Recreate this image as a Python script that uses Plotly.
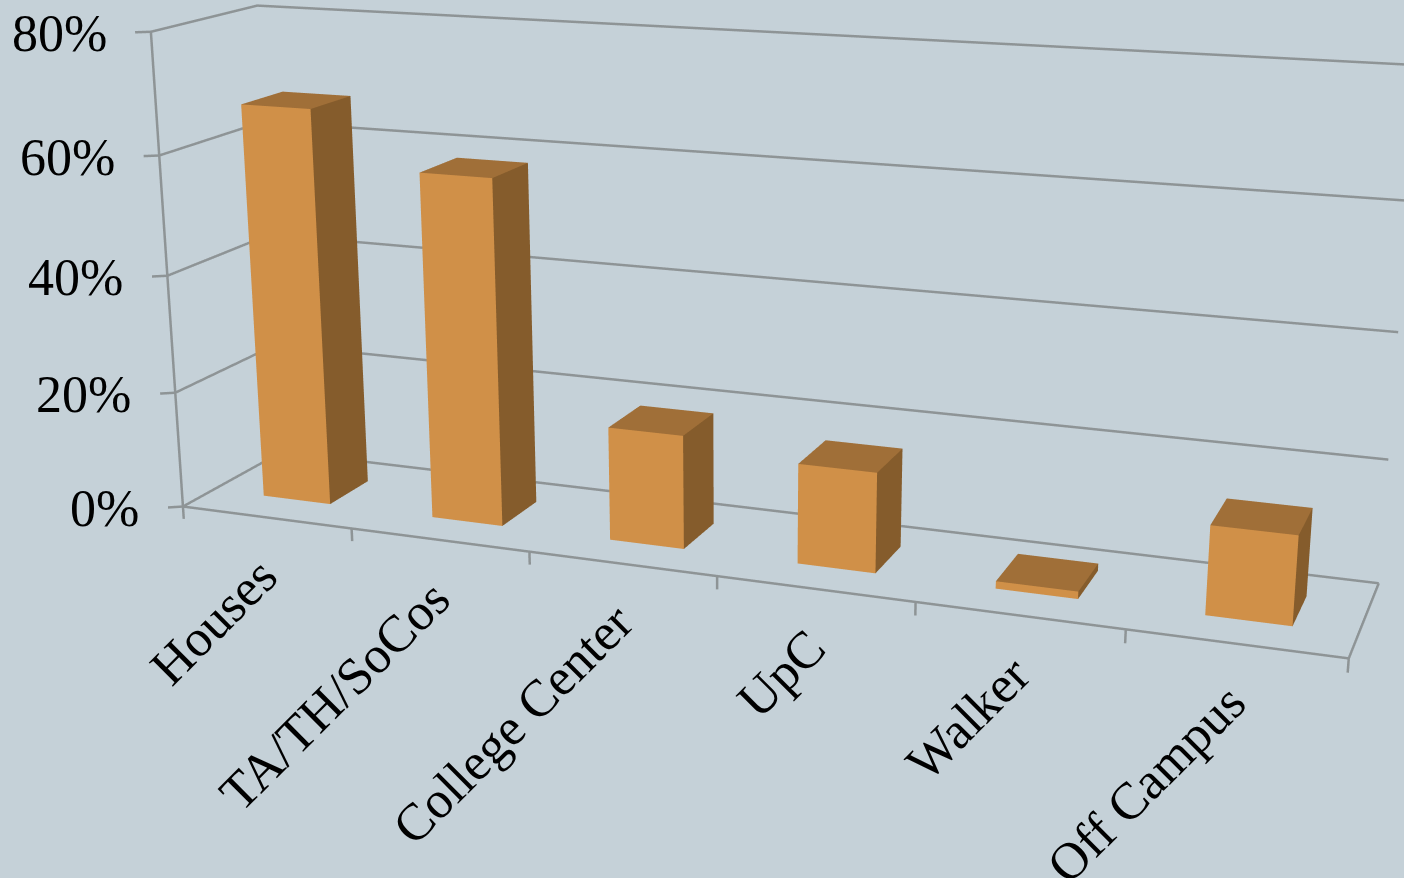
import plotly.graph_objects as go

categories = ["Houses", "TA/TH/SoCos", "College Center", "UpC", "Walker", "Off Campus"]
values = [67.3, 58.2, 19, 16.5, 1.2, 14.2]
tick_values = [0, 20, 40, 60, 80]
tick_labels = ["0%", "20%", "40%", "60%", "80%"]

front_color = "#D09048"
side_color = "#855C2C"
top_color = "#A06F38"
line_color = "#8E9496"
bg_color = "#C5D1D8"
label_font = dict(family="Liberation Serif", size=52, color="black")

W = 3420
H = 2139

fig = go.Figure()

def add_line(xs, ys, zs):
    fig.add_trace(go.Scatter3d(x=xs, y=ys, z=zs, mode="lines",
                               line=dict(color=line_color, width=5), hoverinfo="skip"))

# walls and floor
add_line([0, 6, 6], [0, 0, 1], [0, 0, 0])
add_line([0, 0, 0], [0, 0, 1], [80, 0, 0])
add_line([0, 0, 6.05], [0, 1, 1], [80, 80, 80])
for t in tick_values[:-1]:
    add_line([0, 0, 6], [0, 1, 1], [t, t, t])
for t in tick_values:
    add_line([-0.065, 0], [-0.04, 0], [t, t])
for i in range(7):
    add_line([i, i], [0, 0], [0, -2.2])

# bars
for n, v in enumerate(values):
    x0, x1 = n + 0.305, n + 0.705
    y0, y1 = 0.3, 0.705
    fig.add_trace(go.Mesh3d(
        x=[x0, x1, x1, x0, x0, x1, x1, x0],
        y=[y0, y0, y1, y1, y0, y0, y1, y1],
        z=[0, 0, 0, 0, v, v, v, v],
        i=[0, 0, 1, 1, 4, 4],
        j=[1, 5, 2, 6, 5, 6],
        k=[5, 4, 6, 5, 6, 7],
        facecolor=[front_color, front_color, side_color, side_color, top_color, top_color],
        flatshading=True,
        lighting=dict(ambient=1, diffuse=0, specular=0, fresnel=0),
        hoverinfo="skip",
    ))

notes = []
for t, label in zip(tick_values, tick_labels):
    notes.append(dict(x=0, y=0, z=t, text=label, showarrow=False, xanchor="right",
                      xshift=-42, yshift=-2, font=label_font))
for n, c in enumerate(categories):
    notes.append(dict(x=n + 0.5, y=0, z=0, text=c, showarrow=False, textangle=-45,
                      xanchor="right", yanchor="top", yshift=-27, xshift=24, font=label_font))

fig.update_layout(
    width=W, height=H,
    margin=dict(l=0, r=0, t=0, b=0),
    paper_bgcolor=bg_color,
    showlegend=False,
    scene=dict(
        domain=dict(x=[0, 1], y=[0, 1]),
        bgcolor=bg_color,
        xaxis=dict(range=[-0.1, 6.05], visible=False),
        yaxis=dict(range=[-0.06, 1.02], visible=False),
        zaxis=dict(range=[-3, 82], visible=False),
        aspectmode="manual",
        aspectratio=dict(x=2.3861, y=0.42782, z=1.0241),
        camera=dict(eye=dict(x=1.646, y=-4.44186, z=1.20075),
                    center=dict(x=-0.0549, y=-0.09446, z=-0.24215),
                    up=dict(x=-0.1032, y=0.2767, z=0.9554),
                    projection=dict(type="perspective")),
        annotations=notes,
    ),
)

# the scene has a fixed 45 degree lens, so it is drawn larger than the window and centred on it
shift = ("document.documentElement.style.overflow='hidden';document.body.style.margin='0';"
         "var d=document.querySelector('.plotly-graph-div');d.style.position='fixed';"
         "d.style.left='%dpx';d.style.top='%dpx';" % (703 - W // 2, 439 - H // 2))
fig.write_html("out.html", post_script=shift, config=dict(displayModeBar=False))
